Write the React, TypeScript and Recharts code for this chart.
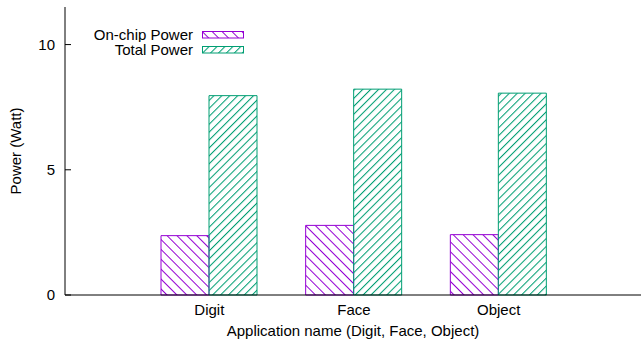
import React from 'react';
import { BarChart, Bar, XAxis, YAxis } from 'recharts';

const apps = ['Digit', 'Face', 'Object'];
const onChipPower = [2.37, 2.78, 2.41];
const totalPower = [7.96, 8.22, 8.06];
const yTicks = [0, 5, 10];
const seriesNames = ['On-chip Power', 'Total Power'];

const PURPLE = '#9400d3';
const GREEN = '#009e73';
const FONT = '"Liberation Sans", Arial, Helvetica, sans-serif';
const FS = 15;

const data = apps.map((name, i) => ({
  name,
  onChip: onChipPower[i],
  total: totalPower[i],
}));

// gnuplot style hatch patterns
const HatchDefs = ({ prefix }: { prefix: string }) => (
  <defs>
    <pattern id={`${prefix}-purple`} patternUnits="userSpaceOnUse" width={7} height={7} patternTransform="rotate(-45)">
      <line x1={0.5} y1={0} x2={0.5} y2={7} stroke={PURPLE} strokeWidth={1} />
    </pattern>
    <pattern id={`${prefix}-green`} patternUnits="userSpaceOnUse" width={5.6} height={5.6} patternTransform="rotate(45)">
      <line x1={0.5} y1={0} x2={0.5} y2={5.6} stroke={GREEN} strokeWidth={1.1} />
    </pattern>
  </defs>
);

const YTick = (props: any) => {
  const { x, y, payload } = props;
  return (
    <g>
      <line x1={x + 10} x2={x + 16} y1={y} y2={y} stroke="#000" />
      <text x={x} y={y} dy="0.36em" textAnchor="end" fontSize={FS} fill="#000" fontFamily={FONT}>
        {payload.value}
      </text>
    </g>
  );
};

const TopTick = (props: any) => {
  const { x, y } = props;
  return <line x1={x} x2={x} y1={y} y2={y + 6} stroke="#000" />;
};

const LegendBox = () => {
  const keys = ['purple', 'green'];
  const colors = [PURPLE, GREEN];
  return (
    <div style={{ position: 'absolute', left: 40, top: 27, fontFamily: FONT, fontSize: FS, lineHeight: '15px', color: '#000' }}>
      {seriesNames.map((n, i) => (
        <div key={n} style={{ display: 'flex', alignItems: 'center', height: 15, overflow: 'hidden' }}>
          <span style={{ width: 153, textAlign: 'right', whiteSpace: 'nowrap', lineHeight: '14px', height: 14 }}>{n}</span>
          <svg width={44} height={8} style={{ marginLeft: 8 }}>
            <HatchDefs prefix={`lg${i}`} />
            <rect x={1.5} y={0.5} width={41} height={6.5} fill={`url(#lg${i}-${keys[i]})`} stroke={colors[i]} />
          </svg>
        </div>
      ))}
    </div>
  );
};

export default function App() {
  return (
    <div style={{ position: 'absolute', left: 0, top: 0, width: 641, height: 343, background: '#fff' }}>
      <BarChart
        width={641}
        height={343}
        data={data}
        margin={{ top: 7, right: 0, left: 0, bottom: 0 }}
        barGap={0}
        barSize={48}
        style={{ fontFamily: FONT }}
      >
        <HatchDefs prefix="ch" />
        <XAxis
          dataKey="name"
          height={48}
          padding={{ left: 72, right: 70 }}
          tickLine={false}
          tickSize={0}
          tickMargin={9}
          axisLine={{ stroke: '#000' }}
          tick={{ fill: '#000', fontSize: FS, fontFamily: FONT }}
          label={{ value: 'Application name (Digit, Face, Object)', position: 'insideBottom', offset: 7, fill: '#000', fontSize: FS, fontFamily: FONT }}
        />
        <XAxis
          xAxisId="top"
          orientation="top"
          dataKey="name"
          height={0}
          padding={{ left: 72, right: 70 }}
          tickLine={false}
          tickSize={0}
          tickMargin={0}
          axisLine={{ stroke: '#000' }}
          tick={<TopTick />}
        />
        <YAxis
          width={65}
          domain={[0, 11.5]}
          ticks={yTicks}
          tickLine={false}
          tickSize={0}
          tickMargin={10}
          axisLine={{ stroke: '#000' }}
          tick={<YTick />}
          label={{ value: 'Power (Watt)', angle: -90, position: 'insideLeft', offset: 16, fill: '#000', fontSize: FS, fontFamily: FONT, style: { textAnchor: 'middle' } }}
        />
        <Bar dataKey="onChip" name={seriesNames[0]} fill="url(#ch-purple)" stroke={PURPLE} strokeWidth={1} isAnimationActive={false} />
        <Bar dataKey="total" name={seriesNames[1]} fill="url(#ch-green)" stroke={GREEN} strokeWidth={1} isAnimationActive={false} />
      </BarChart>
      <LegendBox />
    </div>
  );
}
